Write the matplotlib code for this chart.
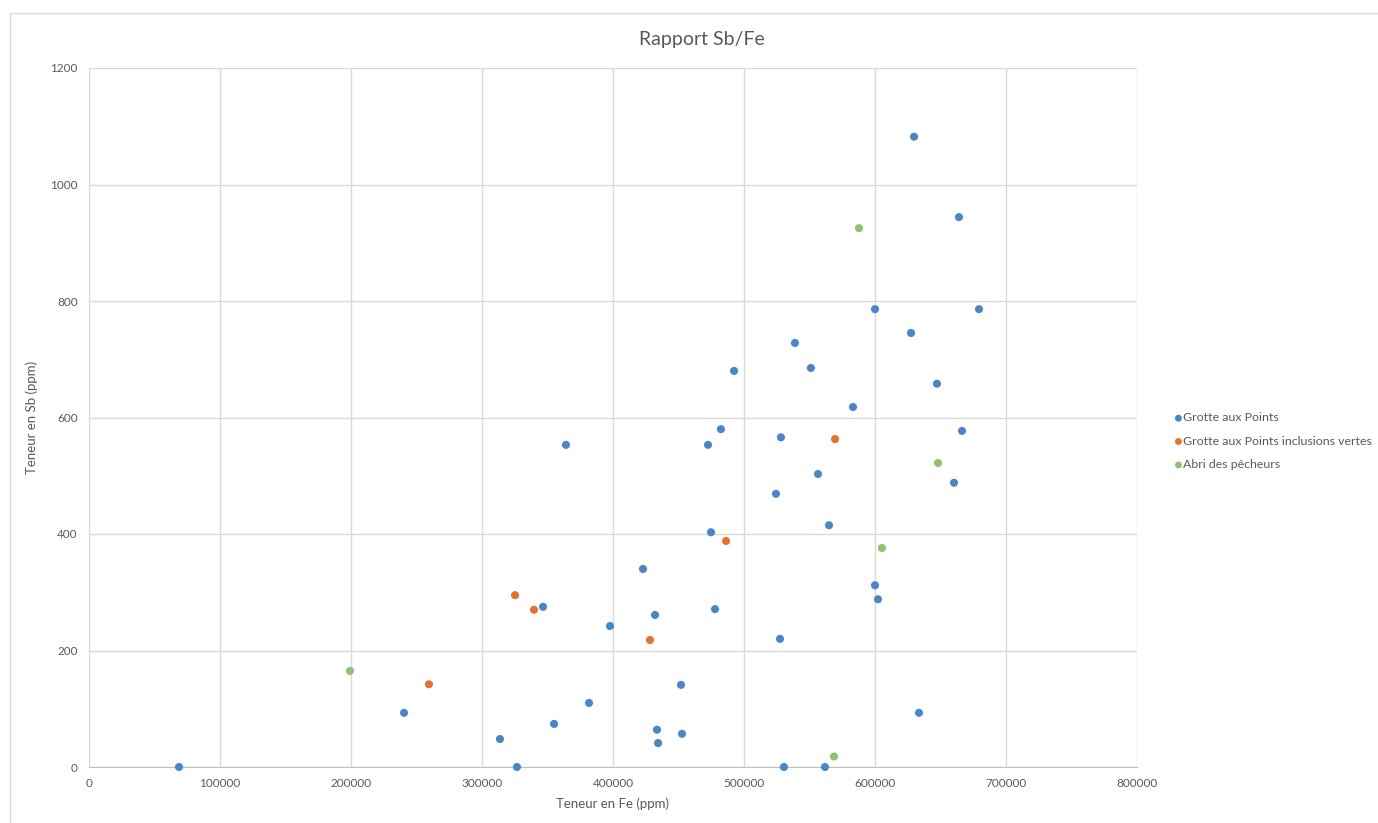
import matplotlib
matplotlib.use("Agg")
import matplotlib.pyplot as plt

# Grotte aux Points
gp_fe = [68700, 240500, 313700, 326700, 346600, 355000, 364100, 381700, 397700, 422900,
         432100, 433600, 434400, 451900, 452700, 472500, 474800, 477900, 482400, 492400,
         527500, 528200, 524400, 530500, 538900, 551100, 556500, 561800, 564900, 583200,
         600000, 600000, 602300, 627500, 629800, 633600, 647300, 660300, 664100, 666400,
         679400]
gp_sb = [0, 93, 48, 0, 275, 74, 553, 110, 242, 340,
         261, 64, 41, 141, 57, 553, 403, 271, 580, 680,
         220, 566, 469, 0, 728, 685, 503, 0, 415, 618,
         786, 312, 288, 745, 1082, 93, 658, 488, 944, 577,
         786]

# Grotte aux Points inclusions vertes
gpv_fe = [259500, 325200, 339700, 428200, 486300, 569500]
gpv_sb = [142, 295, 270, 218, 388, 563]

# Abri des pêcheurs
ap_fe = [199200, 568700, 587800, 605300, 648100]
ap_sb = [165, 18, 925, 376, 522]

series = [
    ("Grotte aux Points", gp_fe, gp_sb, "#4A86C6"),
    ("Grotte aux Points inclusions vertes", gpv_fe, gpv_sb, "#E2742F"),
    ("Abri des pêcheurs", ap_fe, ap_sb, "#8DC26F"),
]

plt.rcParams["font.family"] = ["Lato", "DejaVu Sans"]
GREY = "#595959"

fig = plt.figure(figsize=(13.78, 8.23), dpi=100)
ax = fig.add_axes([89 / 1378, 1 - 767 / 823, (1137 - 89) / 1378, (767 - 68) / 823])

# outer chart frame (left and top edges visible, as in the spreadsheet export)
fig.patches.append(plt.Rectangle((10 / 1378, -0.05), 1.0, 1 - 13 / 823 + 0.05,
                                 transform=fig.transFigure, fill=False,
                                 ec="#D9D9D9", lw=1.0))

for name, xs, ys, col in series:
    ax.scatter(xs, ys, s=34, color=col, edgecolor="none", label=name, zorder=3,
               clip_on=False)

ax.set_xlim(0, 800000)
ax.set_ylim(0, 1200)
ax.set_xticks(range(0, 800001, 100000))
ax.set_yticks(range(0, 1201, 200))
ax.grid(True, color="#D9D9D9", lw=1.0)
ax.set_axisbelow(True)
for s in ["top", "right", "left"]:
    ax.spines[s].set_visible(False)
ax.spines["bottom"].set_color("#BFBFBF")
ax.tick_params(length=0, labelsize=8.5, colors=GREY, pad=8)

# chart title is centred on the whole chart area, not on the plot
fig.text(702 / 1378, 1 - 40 / 823, "Rapport Sb/Fe", fontsize=14, color=GREY,
         ha="center", va="center")
ax.set_xlabel("Teneur en Fe (ppm)", fontsize=9.5, color=GREY, labelpad=6)
ax.set_ylabel("Teneur en Sb (ppm)", fontsize=9.5, color=GREY, labelpad=9)

ax.legend(loc="center left", bbox_to_anchor=(1.036, 0.466), frameon=False,
          fontsize=8.9, labelcolor=GREY, handletextpad=0.1, handlelength=0.6,
          markerscale=0.85, labelspacing=1.0, borderpad=0.0, borderaxespad=0.0)

fig.savefig("out.png", dpi=100)
